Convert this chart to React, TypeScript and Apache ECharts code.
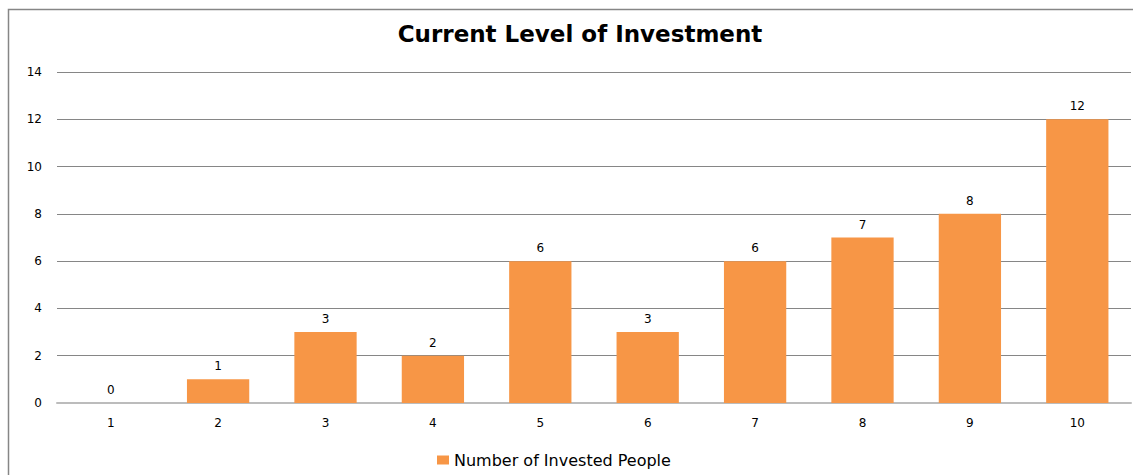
import React, { useEffect, useRef } from "react";
import * as echarts from "echarts";

const categories = ["1", "2", "3", "4", "5", "6", "7", "8", "9", "10"];
const investedPeople = [0, 1, 3, 2, 6, 3, 6, 7, 8, 12];
const seriesName = "Number of Invested People";
const titleText = "Current Level of Investment";

export default function App() {
  const ref = useRef<HTMLDivElement>(null);
  useEffect(() => {
    if (!ref.current) return;
    const chart = echarts.init(ref.current, null, { renderer: "svg" });
    chart.setOption({
      animation: false,
      backgroundColor: "#ffffff",
      title: {
        text: titleText,
        left: 575,
        textAlign: "center",
        top: 17,
        textStyle: {
          fontFamily: "DejaVu Sans",
          fontWeight: "bold",
          fontSize: 23,
          color: "#000000",
        },
      },
      legend: {
        bottom: 2,
        left: 432,
        itemWidth: 12,
        itemHeight: 9,
        itemGap: 10,
        icon: "rect",
        textStyle: { fontFamily: "DejaVu Sans", fontSize: 16, color: "#000000" },
        data: [seriesName],
      },
      grid: { left: 57, right: 2, top: 72, bottom: 72 },
      xAxis: {
        type: "category",
        data: categories,
        axisTick: { show: false },
        axisLine: { lineStyle: { color: "#bcbcbc", width: 2 } },
        axisLabel: { fontFamily: "DejaVu Sans", fontSize: 12, color: "#000000", margin: 14 },
      },
      yAxis: {
        type: "value",
        min: 0,
        max: 14,
        interval: 2,
        axisLine: { show: false },
        axisTick: { show: false },
        splitLine: { lineStyle: { color: "#868686", width: 1 } },
        axisLabel: { fontFamily: "DejaVu Sans", fontSize: 12, color: "#000000", margin: 15 },
      },
      series: [
        {
          name: seriesName,
          type: "bar",
          data: investedPeople,
          barCategoryGap: "42%",
          itemStyle: { color: "#F79646" },
          label: {
            show: true,
            position: "top",
            distance: 7,
            fontFamily: "DejaVu Sans",
            fontSize: 12,
            color: "#000000",
          },
        },
      ],
      graphic: [
        {
          type: "rect",
          shape: { x: 8.5, y: 9.5, width: 1300, height: 600 },
          style: { fill: "none", stroke: "#868686", lineWidth: 1.5 },
          silent: true,
        },
      ],
    });
    return () => chart.dispose();
  }, []);
  return (
    <div
      ref={ref}
      style={{ position: "fixed", left: 0, top: 0, width: 1133, height: 475 }}
    />
  );
}
